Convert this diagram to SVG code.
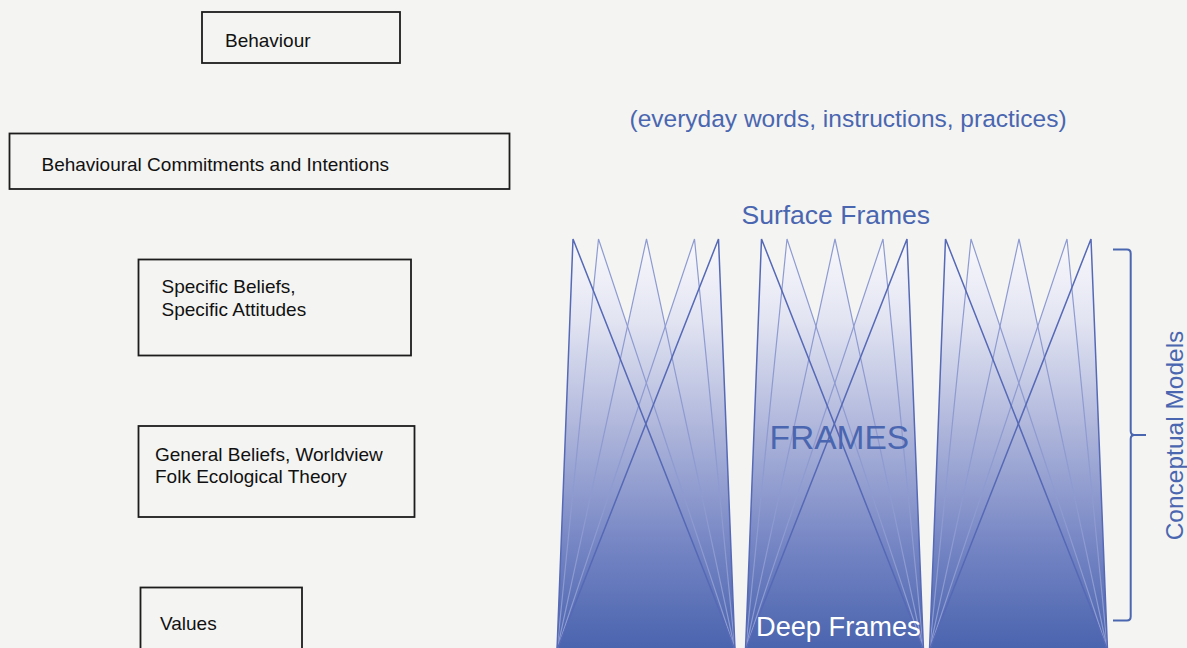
<svg xmlns="http://www.w3.org/2000/svg" width="1187" height="648" viewBox="0 0 1187 648">
  <style>
    .box { fill: none; stroke: #1c1c1c; stroke-width: 1.8; }
    .lbl { font-family: "Liberation Sans", Arial, sans-serif; font-size: 19px; fill: #111; }
    .blue { font-family: "Liberation Sans", Arial, sans-serif; fill: #4a66b0; }
    .tri { fill: url(#fg); stroke: none; }
    .edgeD { fill: none; stroke: #5669b6; stroke-width: 1.5; }
    .edgeL { fill: none; stroke: #8e9bd1; stroke-width: 1.2; }
  </style>
  <defs>
    <linearGradient id="fg" gradientUnits="userSpaceOnUse" x1="0" y1="0" x2="0" y2="409">
      <stop offset="0" stop-color="#f9f9fc"/>
      <stop offset="0.2" stop-color="#e2e4f2"/>
      <stop offset="0.45" stop-color="#b1b8dc"/>
      <stop offset="0.75" stop-color="#7585c4"/>
      <stop offset="1" stop-color="#4a64ae"/>
    </linearGradient>
    <g id="column">
      <path class="tri" d="M16,0 L0,411 L178,411 Z"/>
      <path class="tri" d="M41.5,0 L0,411 L178,411 Z"/>
      <path class="tri" d="M89.5,0 L0,411 L178,411 Z"/>
      <path class="tri" d="M137.5,0 L0,411 L178,411 Z"/>
      <path class="tri" d="M161.5,0 L0,411 L178,411 Z"/>
      <path class="edgeL" d="M0,411 L41.5,0 L178,411"/>
      <path class="edgeL" d="M0,411 L89.5,0 L178,411"/>
      <path class="edgeL" d="M0,411 L137.5,0 L178,411"/>
      <path class="edgeD" d="M0,411 L16,0 L178,411"/>
      <path class="edgeD" d="M0,411 L161.5,0 L178,411"/>
    </g>
  </defs>
  <rect x="0" y="0" width="1187" height="648" fill="#f4f4f2"/>

  <g id="node-behaviour">
    <rect class="box" x="202" y="12" width="198" height="51"/>
    <text class="lbl" x="225" y="46.5">Behaviour</text>
  </g>
  <g id="node-commitments">
    <rect class="box" x="9.5" y="133.5" width="500" height="55.5"/>
    <text class="lbl" x="41.5" y="170.5">Behavioural Commitments and Intentions</text>
  </g>
  <g id="node-specific">
    <rect class="box" x="138.5" y="259.5" width="272.5" height="96"/>
    <text class="lbl" x="161.5" y="293.3">Specific Beliefs,</text>
    <text class="lbl" x="161.5" y="315.7">Specific Attitudes</text>
  </g>
  <g id="node-general">
    <rect class="box" x="138.5" y="426" width="276" height="91"/>
    <text class="lbl" x="155" y="460.7">General Beliefs, Worldview</text>
    <text class="lbl" x="155" y="483.3">Folk Ecological Theory</text>
  </g>
  <g id="node-values">
    <rect class="box" x="140.5" y="587.5" width="161.5" height="80"/>
    <text class="lbl" x="160" y="630">Values</text>
  </g>

  <g id="frames">
    <use href="#column" transform="translate(557,239)"/>
    <use href="#column" transform="translate(745.5,239)"/>
    <use href="#column" transform="translate(929.5,239)"/>
  </g>

  <g id="frame-labels">
    <text class="blue" x="629.5" y="126.5" font-size="24.5">(everyday words, instructions, practices)</text>
    <text class="blue" x="741.5" y="224" font-size="26.5">Surface Frames</text>
    <text class="blue" x="769.5" y="449" font-size="33.5">FRAMES</text>
    <text x="756" y="636" font-family="Liberation Sans, Arial, sans-serif" font-size="27.2" fill="#ffffff">Deep Frames</text>
  </g>

  <g id="connectors">
    <path d="M1113,249.5 H1127 Q1130.7,249.5 1130.7,253.5 V431 Q1130.7,435 1134.5,435 H1146 M1134.5,435 Q1130.7,435 1130.7,439 V616.5 Q1130.7,620.5 1127,620.5 H1113" fill="none" stroke="#4a66b0" stroke-width="2"/>
  </g>
  <g id="node-conceptual">
    <text class="blue" font-size="24.5" text-anchor="middle" transform="translate(1183,435.5) rotate(-90)">Conceptual Models</text>
  </g>
</svg>
